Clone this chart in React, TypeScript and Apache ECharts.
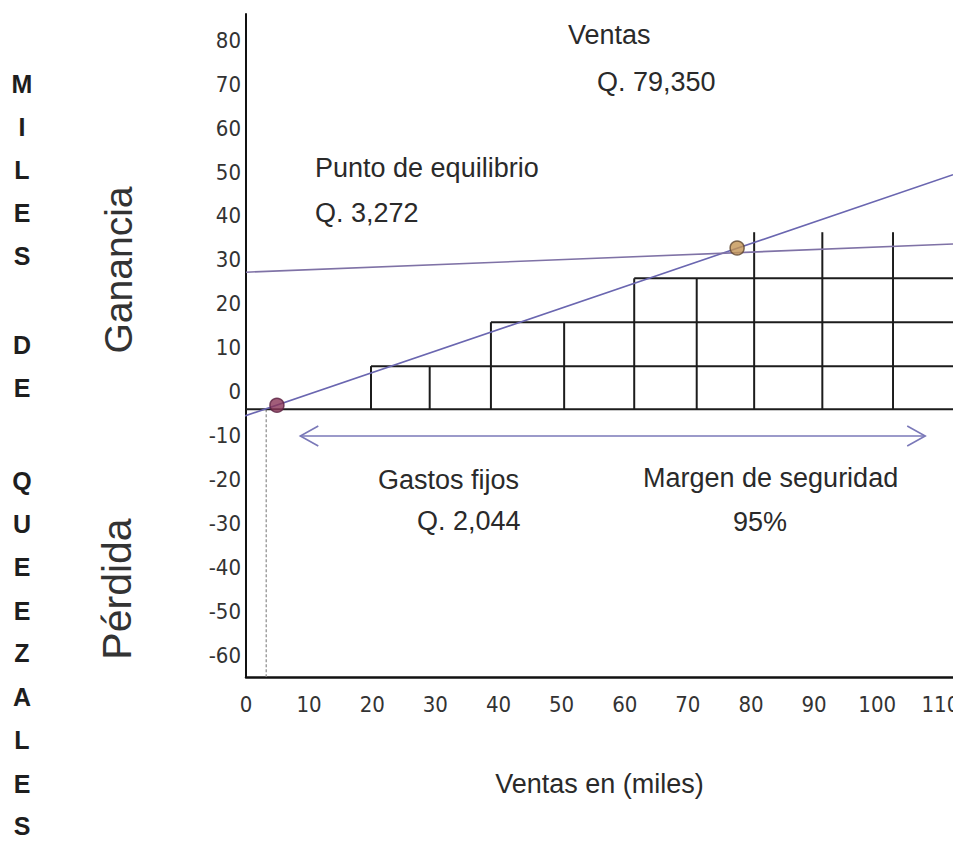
import { useEffect, useRef } from "react";
import * as echarts from "echarts";

// ---- data ----
const xTicks = [0, 10, 20, 30, 40, 50, 60, 70, 80, 90, 100, 110];
const yTicks = [-60, -50, -40, -30, -20, -10, 0, 10, 20, 30, 40, 50, 60, 70, 80];
const xMax = 112;
const baseY = -4;
const stepStarts = [19.8, 38.8, 61.5];
const stepTops = [5.8, 15.8, 25.8];
const stepDividers = [29.1, 50.4, 71.4];
const tallDividers = [80.5, 91.3, 102.5];
const tallTop = 36.3;
const salesLine = [[-1.7, -6.3], [112, 49.4]];
const costLine = [[0, 27.2], [112, 33.6]];
const lossPoint = [[4.9, -3.1]];
const breakEvenPoint = [[77.8, 32.7]];
const guideX = 3.2;
const guideBottom = -65;
const arrowY = -10.1;
const arrowFrom = 8.6;
const arrowTo = 107.6;
const sideTitle = "MILES DE QUEEZALES";
const annotations = [
  { text: "Ventas", x: 568, y: 35 },
  { text: "Q. 79,350", x: 597, y: 82 },
  { text: "Punto de equilibrio", x: 315, y: 168 },
  { text: "Q. 3,272", x: 315, y: 213 },
  { text: "Gastos fijos", x: 378, y: 480 },
  { text: "Q. 2,044", x: 417, y: 521 },
  { text: "Margen de seguridad", x: 643, y: 478 },
  { text: "95%", x: 733, y: 522 },
];

const SANS = "'Liberation Sans', Arial, sans-serif";
const NARROW = "'Liberation Sans Narrow', 'DejaVu Sans Condensed', sans-serif";

function buildSegments() {
  const segs: number[][] = [];
  segs.push([0, baseY, xMax, baseY]);
  stepStarts.forEach((s, i) => {
    segs.push([s, stepTops[i], xMax, stepTops[i]]);
    segs.push([s, baseY, s, stepTops[i]]);
    segs.push([stepDividers[i], baseY, stepDividers[i], stepTops[i]]);
  });
  tallDividers.forEach((x) => segs.push([x, baseY, x, tallTop]));
  return segs;
}

export default function App() {
  const ref = useRef<HTMLDivElement>(null);
  useEffect(() => {
    if (!ref.current) return;
    const chart = echarts.init(ref.current, null, { renderer: "svg" });

    const letterYs = [83.5, 127, 170, 213, 256, 0, 345, 388, 0, 481, 524, 567, 611, 653, 697, 740, 784, 826];
    const letters: any[] = [];
    sideTitle.split("").forEach((ch, i) => {
      if (ch === " ") return;
      letters.push({
        type: "text",
        x: 22,
        y: letterYs[i],
        style: {
          text: ch,
          fontSize: 25,
          fontWeight: "bold",
          fontFamily: SANS,
          fill: "#1e1e1e",
          align: "center",
          verticalAlign: "middle",
        },
      });
    });

    const annotationGraphics = annotations.map((a) => ({
      type: "text",
      x: a.x,
      y: a.y,
      style: {
        text: a.text,
        fontSize: 27,
        fontFamily: SANS,
        fill: "#2a2a2a",
        align: "left",
        verticalAlign: "middle",
      },
    }));

    const option: any = {
      animation: false,
      backgroundColor: "#ffffff",
      grid: {
        left: 246,
        right: 0,
        top: 14,
        bottom: 165,
        containLabel: false,
        outerBoundsMode: "none",
      },
      xAxis: {
        type: "value",
        min: 0,
        max: xMax,
        name: "Ventas en (miles)",
        nameLocation: "middle",
        nameGap: 93,
        nameTextStyle: { fontSize: 27, fontFamily: SANS, color: "#2a2a2a" },
        axisLine: { show: true, onZero: false, lineStyle: { color: "#111", width: 2.5 } },
        axisTick: { show: false },
        splitLine: { show: false },
        axisLabel: {
          customValues: xTicks,
          margin: 16,
          fontSize: 22,
          fontFamily: NARROW,
          color: "#333",
          hideOverlap: false,
        },
      },
      yAxis: {
        type: "value",
        min: -65,
        max: 86,
        axisLine: { show: true, onZero: false, lineStyle: { color: "#111", width: 2 } },
        axisTick: { show: false },
        splitLine: { show: false },
        axisLabel: {
          customValues: yTicks,
          margin: 5,
          fontSize: 22,
          fontFamily: NARROW,
          color: "#333",
        },
      },
      series: [
        {
          type: "custom",
          name: "bloques",
          data: buildSegments(),
          encode: { x: [0, 2], y: [1, 3] },
          renderItem: (_p: any, api: any) => {
            const a = api.coord([api.value(0), api.value(1)]);
            const b = api.coord([api.value(2), api.value(3)]);
            return {
              type: "line",
              shape: { x1: a[0], y1: a[1], x2: b[0], y2: b[1] },
              style: { stroke: "#1c1c1c", lineWidth: 2 },
            };
          },
          z: 2,
        },
        {
          type: "line",
          name: "guia",
          data: [[guideX, baseY], [guideX, guideBottom]],
          showSymbol: false,
          lineStyle: { color: "#8a8a8a", width: 1.2, type: [3, 2] },
          z: 1,
        },
        {
          type: "line",
          name: "Ventas",
          data: salesLine,
          showSymbol: false,
          clip: false,
          lineStyle: { color: "#6a66b0", width: 1.6 },
          z: 3,
        },
        {
          type: "line",
          name: "Costos",
          data: costLine,
          showSymbol: false,
          lineStyle: { color: "#7f72a6", width: 1.6 },
          z: 3,
        },
        {
          type: "line",
          name: "flecha",
          data: [[arrowFrom, arrowY], [arrowTo, arrowY]],
          showSymbol: false,
          lineStyle: { color: "#7a78b8", width: 1.6 },
          z: 3,
        },
        {
          type: "custom",
          name: "puntas",
          data: [[arrowFrom, arrowY, -1], [arrowTo, arrowY, 1]],
          renderItem: (_p: any, api: any) => {
            const t = api.coord([api.value(0), api.value(1)]);
            const d = api.value(2);
            return {
              type: "polyline",
              shape: {
                points: [
                  [t[0] - d * 18, t[1] - 10],
                  [t[0], t[1]],
                  [t[0] - d * 18, t[1] + 10],
                ],
              },
              style: { stroke: "#7a78b8", lineWidth: 1.6, fill: "none" },
            };
          },
          z: 3,
        },
        {
          type: "scatter",
          name: "perdida",
          data: lossPoint,
          symbolSize: 14,
          itemStyle: { color: "#8a3457", borderColor: "#5a2040", borderWidth: 1.5 },
          z: 5,
        },
        {
          type: "scatter",
          name: "equilibrio",
          data: breakEvenPoint,
          symbolSize: 14,
          itemStyle: { color: "#c39452", borderColor: "#5e4630", borderWidth: 1.5 },
          z: 5,
        },
      ],
      graphic: [
        ...letters,
        {
          type: "text",
          x: 118,
          y: 270,
          rotation: Math.PI / 2,
          style: {
            text: "Ganancia",
            fontSize: 39,
            fontFamily: SANS,
            fill: "#333",
            align: "center",
            verticalAlign: "middle",
          },
        },
        {
          type: "text",
          x: 117,
          y: 589,
          rotation: Math.PI / 2,
          style: {
            text: "Pérdida",
            fontSize: 41,
            fontFamily: SANS,
            fill: "#333",
            align: "center",
            verticalAlign: "middle",
          },
        },
        ...annotationGraphics,
      ],
    };
    chart.setOption(option);
    return () => chart.dispose();
  }, []);

  return (
    <div
      ref={ref}
      style={{ position: "fixed", left: 0, top: 0, width: 953, height: 842, background: "#fff" }}
    />
  );
}
